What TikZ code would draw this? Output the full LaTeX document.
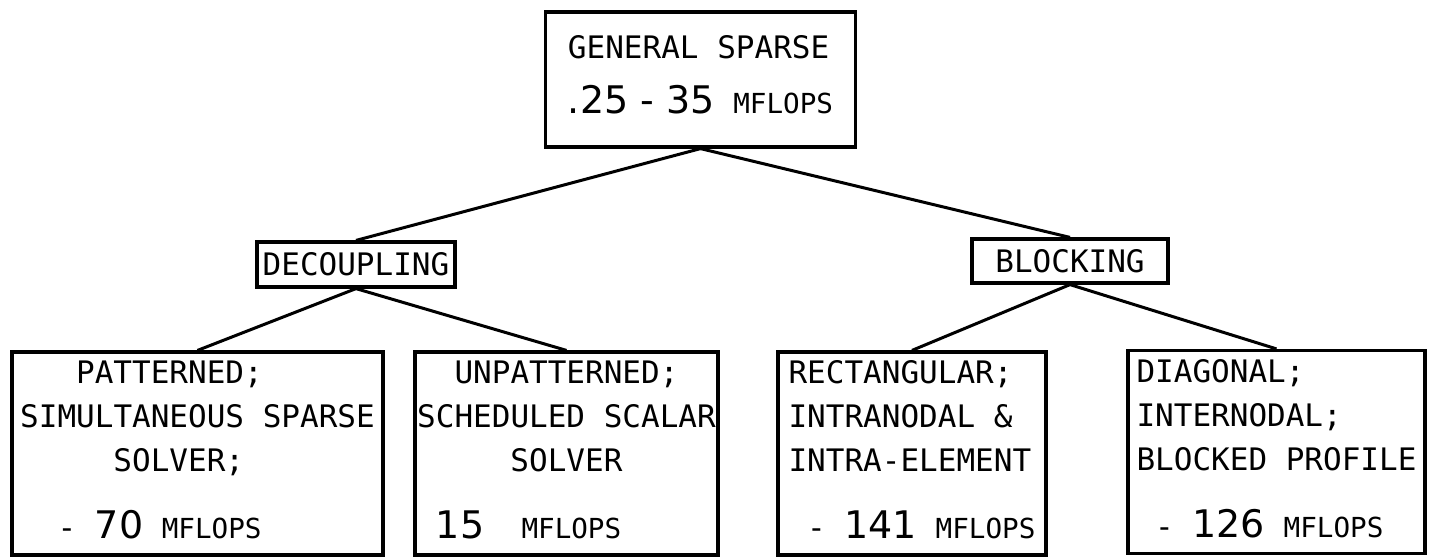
\documentclass[tikz,border=0pt]{standalone}
\usepackage{fontspec}
\setmainfont{DejaVu Sans Mono}
\newfontfamily\digitfont{DejaVu Sans}
\usepackage{tikz}

\newlength\cw
\setlength\cw{9.33pt}
\newcommand{\pad}[1]{\hspace*{#1\cw}}
\newcommand{\num}[1]{{\digitfont\fontsize{19}{22}\selectfont #1}}
\newcommand{\mfl}{{\fontsize{13.8}{22}\selectfont MFLOPS}}

\begin{document}
\begin{tikzpicture}[x=0.5pt,y=-0.5pt,
  box/.style={draw,line width=1.6pt,inner sep=1pt,align=left,
    font=\fontsize{15.5}{22}\selectfont},
  leaf/.style={box,minimum height=101.5pt,text depth=4pt},
  link/.style={line width=1.5pt},
]
  \useasboundingbox (0,0) rectangle (1441,557);

  % root
  \node[box,minimum width=155pt,minimum height=67.5pt,text depth=5pt] (gen) at (700.5,79.5)
    {GENERAL SPARSE\\[5.5pt]\num{.25 - 35} \mfl};

  % two strategies
  \node[box,minimum width=99pt,minimum height=22.5pt] (dec) at (356,264.5) {DECOUPLING};
  \node[box,minimum width=98pt,minimum height=22pt] (blk) at (1070,261) {BLOCKING};

  % leaves
  \node[leaf,minimum width=185.5pt] (pat) at (197.5,453.5)
    {\pad{3}PATTERNED;\\
     SIMULTANEOUS SPARSE\\
     \pad{5}SOLVER;\\[11.5pt]
     \pad{2}- \num{70} \mfl};
  \node[leaf,minimum width=151.5pt] (unp) at (566.5,453.5)
    {\pad{2}UNPATTERNED;\\
     SCHEDULED SCALAR\\
     \pad{5}SOLVER\\[11.5pt]
     \pad{1}\num{15}\pad{2}\mfl};
  \node[leaf,minimum width=134pt] (rec) at (912,453.5)
    {RECTANGULAR;\\
     INTRANODAL \&\\
     INTRA-ELEMENT\\[11.5pt]
     \pad{1}- \num{141} \mfl};
  \node[leaf,minimum width=148.5pt] (dia) at (1276.5,452)
    {DIAGONAL;\\
     INTERNODAL;\\
     BLOCKED PROFILE\\[11.5pt]
     \pad{1}- \num{126} \mfl};

  \draw[link] (gen.south) -- (dec.north);
  \draw[link] (gen.south) -- (blk.north);
  \draw[link] (dec.south) -- (pat.north);
  \draw[link] (dec.south) -- (unp.north);
  \draw[link] (blk.south) -- (rec.north);
  \draw[link] (blk.south) -- (dia.north);
\end{tikzpicture}
\end{document}
